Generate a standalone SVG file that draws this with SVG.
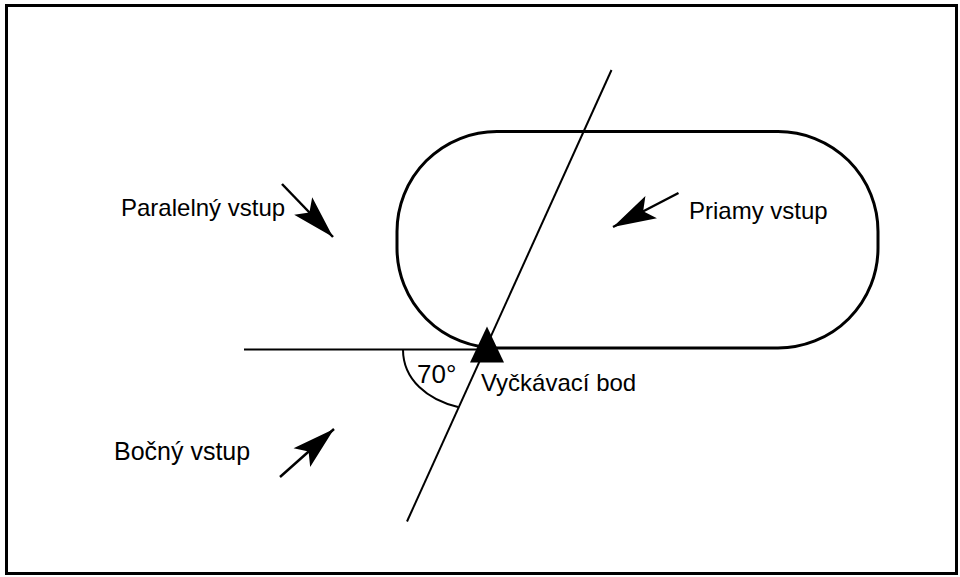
<svg xmlns="http://www.w3.org/2000/svg" width="960" height="577" viewBox="0 0 960 577">
  <style>
    .frame { fill: #fff; stroke: #000; stroke-width: 3; }
    .track { fill: none; stroke: #000; stroke-width: 3; }
    .line { fill: none; stroke: #000; stroke-width: 2; }
    .arrow { fill: none; stroke: #000; stroke-width: 2.5; marker-end: url(#head); }
    .label { font-family: "Liberation Sans", Arial, sans-serif; font-size: 24px; fill: #000; }
  </style>
  <defs>
    <marker id="head" markerUnits="userSpaceOnUse" viewBox="-44 -14 46 28" refX="0" refY="0" markerWidth="46" markerHeight="28" orient="auto">
      <path d="M0,0 L-43,-12.5 L-34,0 L-43,12.5 Z" fill="#000"/>
    </marker>
  </defs>

  <rect class="frame" x="6.5" y="5.5" width="950" height="568"/>

  <!-- holding pattern racetrack -->
  <g id="racetrack">
    <rect class="track" x="397" y="131.5" width="481" height="216.5" rx="100" ry="100"/>
  </g>

  <!-- inbound line, fix axis, angle arc and entry arrows -->
  <g id="connectors">
    <line class="line" x1="244" y1="349.5" x2="490" y2="349.5"/>
    <line class="line" x1="611.5" y1="70" x2="407" y2="521.5"/>
    <path class="line" d="M403,349.5 C403,380 428,400 458,407"/>
    <line class="arrow" x1="282" y1="184" x2="333" y2="237"/>
    <line class="arrow" x1="678.5" y1="193" x2="613" y2="227"/>
    <line class="arrow" x1="280" y1="477" x2="334" y2="429"/>
  </g>

  <g id="fix">
    <polygon points="487,326.5 470,362.5 504,362.5" fill="#000"/>
    <text class="label" x="481" y="391">Vyčkávací bod</text>
  </g>

  <g id="angle">
    <text class="label" x="417" y="383" style="font-size:26px">70°</text>
  </g>

  <g id="parallel-entry">
    <text class="label" x="121" y="216">Paralelný vstup</text>
  </g>
  <g id="direct-entry">
    <text class="label" x="689" y="219">Priamy vstup</text>
  </g>
  <g id="offset-entry">
    <text class="label" x="114" y="460" style="font-size:25px">Bočný vstup</text>
  </g>
</svg>
